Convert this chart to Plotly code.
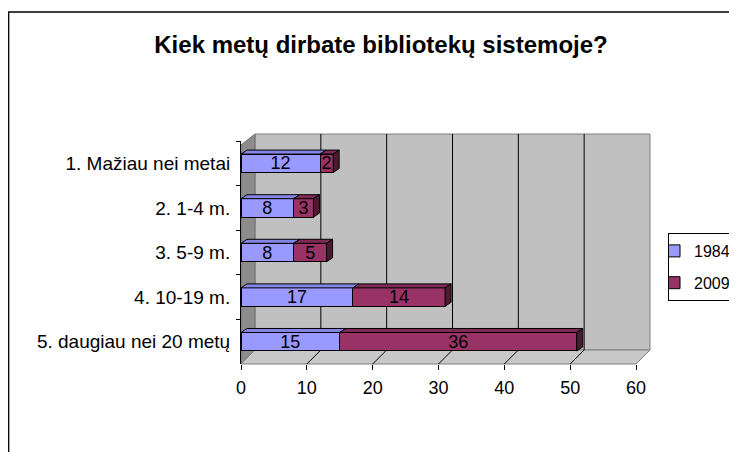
import plotly.graph_objects as go

# ---- data ----
categories = ["1. Mažiau nei metai", "2. 1-4 m.", "3. 5-9 m.", "4. 10-19 m.", "5. daugiau nei 20 metų"]
series_names = ["1984", "2009"]
values_1984 = [12, 8, 8, 17, 15]
values_2009 = [2, 3, 5, 14, 36]
x_ticks = [0, 10, 20, 30, 40, 50, 60]
title_text = "Kiek metų dirbate bibliotekų sistemoje?"

# ---- layout constants (pixels, in page coordinates) ----
OFF = 8                  # page body margin
PW, PH = 737, 452        # page size
W, H = PW - OFF, PH - OFF
L, R, T, B = 241, 636, 141, 364
XMAX = 60
DX, DY = 14, 14          # wall depth
BACK_TOP = 134
BDX, BDY = 6, 4          # bar depth
BARGAP = 0.587
FONT = "Liberation Sans, Arial, sans-serif"

front_cols = ["#9999FF", "#993366"]
top_cols = ["#8585E6", "#7F2A55"]
side_cols = ["#4D4D80", "#4D1A33"]


def px(xp):
    return (xp - L) / (R - L)


def py(yp):
    return (B - yp) / (B - T)


ux = (R - L) / XMAX
uy = (B - T) / len(categories)

fig = go.Figure()
for name, vals, col in zip(series_names, [values_1984, values_2009], front_cols):
    fig.add_trace(go.Bar(
        y=categories, x=vals, name=name, orientation="h",
        marker=dict(color=col, line=dict(color="black", width=1)),
        text=vals, textposition="inside", insidetextanchor="middle",
        textangle=0, constraintext="none",
        textfont=dict(family=FONT, size=18, color="black"),
        legendgroup=name, hoverinfo="skip",
    ))

shapes = []
# outer chart border
shapes.append(dict(type="rect", xref="paper", yref="paper",
                   x0=px(OFF + 0.7), x1=px(PW + 5), y0=py(12), y1=py(PH + 5),
                   line=dict(color="black", width=1.3), fillcolor="rgba(0,0,0,0)", layer="below"))
# back wall
shapes.append(dict(type="rect", xref="paper", yref="paper",
                   x0=px(L + DX), x1=px(R + DX), y0=py(B - DY), y1=py(BACK_TOP),
                   line=dict(color="#808080", width=1), fillcolor="#C0C0C0", layer="below"))
# side wall
p = [(L, T + 4), (L + DX, BACK_TOP), (L + DX, B - DY), (L, B)]
shapes.append(dict(type="path", xref="paper", yref="paper",
                   path="M" + " L".join(f"{px(a)},{py(b)}" for a, b in p) + " Z",
                   line=dict(color="#707070", width=1), fillcolor="#8C8C8C", layer="below"))
# floor
p = [(L, B), (L + DX, B - DY), (R + DX, B - DY), (R, B)]
shapes.append(dict(type="path", xref="paper", yref="paper",
                   path="M" + " L".join(f"{px(a)},{py(b)}" for a, b in p) + " Z",
                   line=dict(color="#808080", width=1), fillcolor="#C8C8C8", layer="below"))
# gridlines on the back wall and floor
for v in x_ticks[1:-1]:
    xf = L + v * ux
    shapes.append(dict(type="line", xref="paper", yref="paper",
                       x0=px(xf + DX), x1=px(xf + DX), y0=py(B - DY), y1=py(BACK_TOP),
                       line=dict(color="black", width=1), layer="below"))
    shapes.append(dict(type="line", xref="paper", yref="paper",
                       x0=px(xf), x1=px(xf + DX), y0=py(B), y1=py(B - DY),
                       line=dict(color="black", width=1), layer="below"))

# 3D faces of bars (derived from the data)
hw = (1 - BARGAP) / 2
ddx = BDX / ux
ddy = BDY / uy
for i in range(len(categories)):
    base = 0
    segs = [values_1984[i], values_2009[i]]
    for k, v in enumerate(segs):
        x0, x1 = base, base + v
        top = i - hw
        path = (f"M{x0},{top} L{x0 + ddx},{top - ddy} L{x1 + ddx},{top - ddy} L{x1},{top} Z")
        shapes.append(dict(type="path", xref="x", yref="y", path=path,
                           fillcolor=top_cols[k], line=dict(color="black", width=1), layer="above"))
        base = x1
    k = len(segs) - 1
    bot = i + hw
    top = i - hw
    path = (f"M{base},{top} L{base + ddx},{top - ddy} L{base + ddx},{bot - ddy} L{base},{bot} Z")
    shapes.append(dict(type="path", xref="x", yref="y", path=path,
                       fillcolor=side_cols[k], line=dict(color="black", width=1), layer="above"))

fig.update_layout(
    width=W, height=H,
    margin=dict(l=L - OFF, r=W - (R - OFF), t=T - OFF, b=H - (B - OFF), autoexpand=False),
    paper_bgcolor="white", plot_bgcolor="rgba(0,0,0,0)",
    barmode="stack", bargap=BARGAP,
    font=dict(family=FONT, color="black"),
    title=dict(text=f"<b>{title_text}</b>", xref="container", yref="container",
               x=(381 - OFF) / W, xanchor="center", y=1 - (45 - OFF) / H, yanchor="middle",
               font=dict(family=FONT, size=24, color="black")),
    xaxis=dict(range=[0, XMAX], tickvals=x_ticks, showgrid=False, zeroline=False,
               showline=False, ticks="outside", ticklen=5, tickcolor="black",
               tickfont=dict(family=FONT, size=18, color="black"), ticklabelstandoff=2,
               fixedrange=True),
    yaxis=dict(type="category", categoryorder="array", categoryarray=categories,
               autorange="reversed", showgrid=False, zeroline=False,
               showline=True, linecolor="black", linewidth=1,
               ticks="outside", tickson="boundaries", ticklen=4, tickcolor="black",
               tickfont=dict(family=FONT, size=19, color="black"), ticklabelstandoff=6,
               fixedrange=True),
    legend=dict(x=px(668), y=py(233), xanchor="left", yanchor="top",
                bordercolor="black", borderwidth=1, bgcolor="white",
                font=dict(family=FONT, size=16, color="black"),
                traceorder="grouped", tracegroupgap=8, indentation=-15),
    shapes=shapes,
    showlegend=True,
)

fig.write_html("out.html")
